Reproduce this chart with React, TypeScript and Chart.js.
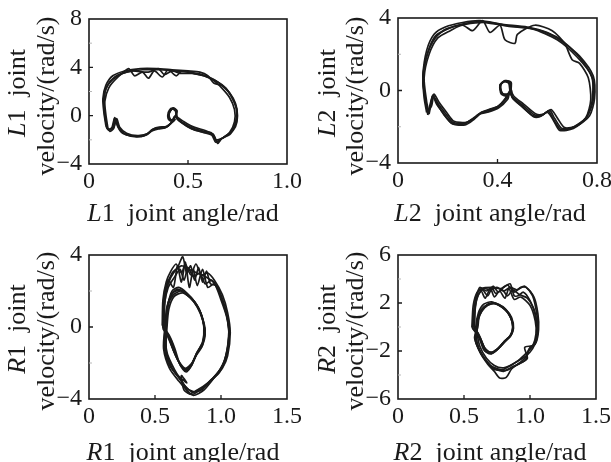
import React, { useEffect, useRef } from "react";
import { Chart, registerables } from "chart.js";
Chart.register(...registerables);

type P = [number, number];

// ---------- L1 joint: angle (rad) vs velocity (rad/s) ----------
const L1_A: P[] = [[0.09,-0.9],[0.08,0.2],[0.075,1.3],[0.09,2.4],[0.13,3.2],[0.19,3.6],[0.27,3.8],[0.35,3.8],[0.43,3.7],[0.5,3.6],[0.57,3.4],[0.63,3.0],[0.68,2.4],[0.72,1.6],[0.745,0.6],[0.745,-0.4],[0.72,-1.3],[0.68,-1.8],[0.645,-2.1],[0.625,-1.5],[0.58,-1.3],[0.52,-1.0],[0.47,-0.55],[0.44,-0.15],[0.44,0.35],[0.42,0.55],[0.405,0.2],[0.41,-0.3],[0.425,-0.35],[0.435,0.0],[0.42,-0.5],[0.39,-0.95],[0.35,-1.0],[0.32,-1.15],[0.29,-1.55],[0.24,-1.7],[0.18,-1.5],[0.15,-1.0],[0.13,-0.2],[0.12,-1.0],[0.1,-1.2],[0.09,-0.9]];
const L1_B: P[] = [[0.095,-1.0],[0.085,0.1],[0.08,1.2],[0.1,2.3],[0.14,3.1],[0.2,3.9],[0.23,3.3],[0.27,3.6],[0.3,3.1],[0.33,3.7],[0.37,3.2],[0.4,3.8],[0.44,3.3],[0.47,3.7],[0.53,3.5],[0.58,3.3],[0.63,2.9],[0.67,2.3],[0.71,1.5],[0.735,0.5],[0.735,-0.5],[0.71,-1.4],[0.67,-1.9],[0.64,-2.2],[0.62,-1.6],[0.58,-1.4],[0.52,-1.1],[0.47,-0.6],[0.445,-0.2],[0.44,0.4],[0.425,0.6],[0.405,0.3],[0.405,-0.2],[0.42,-0.4],[0.43,-0.1],[0.415,-0.6],[0.385,-1.0],[0.35,-1.1],[0.32,-1.25],[0.29,-1.6],[0.24,-1.75],[0.185,-1.55],[0.155,-1.1],[0.135,-0.3],[0.125,-1.05],[0.105,-1.3],[0.095,-1.0]];
const L1_C: P[] = [[0.085,-0.8],[0.075,0.3],[0.07,1.4],[0.085,2.5],[0.12,3.3],[0.18,3.7],[0.26,3.9],[0.34,3.9],[0.42,3.8],[0.5,3.7],[0.56,3.6],[0.6,3.3],[0.63,2.7],[0.67,2.5],[0.71,1.9],[0.74,1.0],[0.75,0.0],[0.74,-0.9],[0.71,-1.5],[0.67,-1.9],[0.65,-2.3],[0.63,-1.6],[0.59,-1.25],[0.53,-0.95],[0.48,-0.5],[0.445,-0.1],[0.435,0.45],[0.415,0.6],[0.4,0.25],[0.4,-0.25],[0.415,-0.45],[0.43,-0.2],[0.41,-0.7],[0.38,-1.0],[0.345,-1.05],[0.31,-1.3],[0.28,-1.65],[0.23,-1.7],[0.17,-1.45],[0.145,-0.9],[0.13,-0.15],[0.115,-1.0],[0.095,-1.15],[0.085,-0.8]];
const L1_D: P[] = [[0.09,-1.0],[0.08,0.0],[0.075,1.1],[0.085,2.2],[0.12,3.0],[0.17,3.5],[0.22,3.7],[0.3,3.6],[0.35,3.9],[0.38,3.4],[0.42,3.7],[0.46,3.5],[0.52,3.5],[0.58,3.3],[0.64,2.9],[0.69,2.3],[0.725,1.4],[0.745,0.5],[0.74,-0.6],[0.715,-1.5],[0.675,-1.85],[0.64,-2.0],[0.615,-1.4],[0.575,-1.35],[0.515,-1.05],[0.465,-0.55],[0.44,-0.1],[0.445,0.4],[0.425,0.65],[0.41,0.35],[0.4,-0.1],[0.415,-0.4],[0.435,-0.3],[0.42,-0.55],[0.39,-0.9],[0.355,-0.95],[0.325,-1.1],[0.295,-1.5],[0.245,-1.65],[0.19,-1.45],[0.155,-0.95],[0.14,-0.25],[0.125,-0.95],[0.1,-1.15],[0.09,-1.0]];

// ---------- L2 joint ----------
const L2_A: P[] = [[0.12,-1.25],[0.11,-0.5],[0.10,0.75],[0.12,2.1],[0.15,3.0],[0.2,3.4],[0.27,3.7],[0.34,3.8],[0.43,3.6],[0.54,3.4],[0.64,2.8],[0.72,1.85],[0.78,0.75],[0.785,-0.5],[0.76,-1.45],[0.71,-2.0],[0.66,-2.1],[0.63,-1.55],[0.61,-1.1],[0.58,-1.35],[0.55,-1.35],[0.5,-0.8],[0.46,-0.35],[0.45,0.0],[0.45,0.4],[0.43,0.5],[0.41,0.3],[0.42,-0.15],[0.44,-0.25],[0.45,0.0],[0.43,-0.5],[0.4,-0.9],[0.36,-1.1],[0.33,-1.25],[0.31,-1.5],[0.27,-1.8],[0.22,-1.75],[0.19,-1.25],[0.16,-0.7],[0.14,-0.25],[0.13,-0.9],[0.12,-1.25]];
const L2_B: P[] = [[0.125,-1.3],[0.115,-0.6],[0.105,0.7],[0.125,2.0],[0.16,2.9],[0.21,3.3],[0.26,3.6],[0.3,3.3],[0.34,3.85],[0.37,3.2],[0.41,3.6],[0.43,2.8],[0.47,2.6],[0.48,3.1],[0.55,3.6],[0.62,3.3],[0.67,2.6],[0.7,1.7],[0.73,1.5],[0.765,0.7],[0.775,-0.5],[0.755,-1.5],[0.7,-2.05],[0.655,-2.15],[0.625,-1.6],[0.605,-1.15],[0.575,-1.4],[0.545,-1.4],[0.495,-0.85],[0.46,-0.4],[0.455,0.05],[0.45,0.45],[0.43,0.55],[0.41,0.3],[0.415,-0.2],[0.44,-0.3],[0.45,-0.05],[0.425,-0.55],[0.395,-0.95],[0.355,-1.15],[0.325,-1.3],[0.3,-1.55],[0.265,-1.85],[0.215,-1.8],[0.185,-1.3],[0.155,-0.75],[0.14,-0.3],[0.13,-0.95],[0.125,-1.3]];
const L2_C: P[] = [[0.115,-1.2],[0.105,-0.4],[0.1,0.8],[0.115,2.2],[0.145,3.1],[0.19,3.5],[0.26,3.75],[0.33,3.85],[0.42,3.65],[0.52,3.5],[0.6,3.2],[0.66,2.7],[0.73,1.9],[0.785,0.8],[0.79,-0.45],[0.77,-1.4],[0.72,-1.95],[0.67,-2.05],[0.64,-1.5],[0.615,-1.05],[0.585,-1.3],[0.555,-1.3],[0.505,-0.75],[0.465,-0.3],[0.455,0.05],[0.455,0.45],[0.435,0.55],[0.415,0.35],[0.415,-0.1],[0.435,-0.25],[0.455,0.0],[0.435,-0.45],[0.405,-0.85],[0.365,-1.05],[0.335,-1.2],[0.315,-1.45],[0.275,-1.75],[0.225,-1.7],[0.195,-1.2],[0.165,-0.65],[0.145,-0.2],[0.135,-0.85],[0.115,-1.2]];
const L2_D: P[] = [[0.12,-1.35],[0.11,-0.55],[0.1,0.6],[0.115,1.9],[0.15,2.9],[0.195,3.4],[0.27,3.65],[0.35,3.75],[0.44,3.55],[0.56,3.35],[0.65,2.85],[0.725,1.9],[0.78,0.7],[0.78,-0.6],[0.755,-1.55],[0.705,-2.1],[0.65,-2.2],[0.625,-1.65],[0.6,-1.2],[0.57,-1.45],[0.545,-1.45],[0.5,-0.9],[0.46,-0.4],[0.45,0.0],[0.445,0.4],[0.425,0.5],[0.41,0.25],[0.42,-0.2],[0.445,-0.2],[0.44,-0.5],[0.405,-0.95],[0.36,-1.2],[0.33,-1.3],[0.305,-1.6],[0.27,-1.9],[0.22,-1.85],[0.185,-1.35],[0.16,-0.8],[0.14,-0.3],[0.125,-1.0],[0.12,-1.35]];

// ---------- R1 joint ----------
const R1_A: P[] = [[0.57,0.0],[0.575,1.4],[0.6,2.4],[0.64,3.0],[0.7,3.4],[0.76,3.2],[0.82,3.0],[0.88,2.8],[0.94,2.5],[0.99,1.9],[1.03,1.0],[1.06,0.0],[1.05,-1.2],[1.02,-2.0],[0.96,-2.7],[0.88,-3.3],[0.8,-3.6],[0.74,-3.4],[0.69,-2.9],[0.62,-2.2],[0.58,-1.2],[0.585,0.0],[0.6,1.2],[0.64,1.8],[0.7,2.0],[0.76,1.7],[0.82,1.2],[0.86,0.5],[0.88,-0.2],[0.86,-0.9],[0.82,-1.4],[0.78,-2.0],[0.73,-2.3],[0.68,-1.9],[0.64,-1.3],[0.6,-0.6],[0.57,0.0]];
const R1_B: P[] = [[0.56,-0.1],[0.565,1.3],[0.59,2.3],[0.63,3.0],[0.67,3.3],[0.71,3.9],[0.74,3.0],[0.77,3.4],[0.8,2.6],[0.83,3.3],[0.86,2.5],[0.89,3.1],[0.92,2.4],[0.96,2.3],[1.0,1.7],[1.04,0.8],[1.06,-0.2],[1.04,-1.5],[1.0,-2.3],[0.93,-2.9],[0.86,-3.4],[0.78,-3.75],[0.72,-3.5],[0.7,-2.7],[0.74,-3.1],[0.66,-2.6],[0.6,-2.0],[0.57,-1.1],[0.58,0.1],[0.6,1.3],[0.63,2.0],[0.68,2.2],[0.74,1.9],[0.8,1.4],[0.85,0.7],[0.875,-0.1],[0.865,-0.8],[0.83,-1.3],[0.79,-1.9],[0.75,-2.4],[0.7,-2.2],[0.655,-1.5],[0.62,-0.7],[0.56,-0.1]];
const R1_C: P[] = [[0.555,0.1],[0.56,1.5],[0.585,2.5],[0.62,3.1],[0.66,3.5],[0.7,3.0],[0.73,3.5],[0.77,2.9],[0.81,3.5],[0.85,2.9],[0.9,3.0],[0.95,2.6],[1.01,1.8],[1.05,0.8],[1.07,-0.3],[1.05,-1.6],[1.01,-2.3],[0.95,-2.8],[0.87,-3.5],[0.79,-3.8],[0.74,-3.5],[0.68,-3.0],[0.61,-2.3],[0.565,-1.2],[0.575,0.0],[0.59,1.1],[0.625,1.8],[0.67,2.1],[0.73,1.85],[0.79,1.45],[0.845,0.8],[0.87,0.0],[0.86,-0.85],[0.815,-1.45],[0.775,-2.1],[0.73,-2.4],[0.685,-2.0],[0.645,-1.4],[0.605,-0.6],[0.555,0.1]];
const R1_D: P[] = [[0.57,-0.2],[0.57,1.2],[0.6,2.2],[0.65,2.8],[0.69,3.2],[0.72,2.6],[0.75,3.3],[0.79,2.8],[0.84,3.0],[0.88,2.4],[0.93,2.6],[0.98,2.1],[1.02,1.3],[1.05,0.4],[1.06,-0.6],[1.04,-1.7],[0.99,-2.5],[0.92,-3.0],[0.85,-3.5],[0.78,-3.6],[0.73,-3.3],[0.69,-2.9],[0.63,-2.3],[0.585,-1.3],[0.59,-0.1],[0.605,1.0],[0.645,1.7],[0.71,1.9],[0.77,1.6],[0.82,1.1],[0.86,0.4],[0.88,-0.4],[0.855,-1.1],[0.81,-1.6],[0.77,-2.2],[0.72,-2.35],[0.67,-1.8],[0.63,-1.1],[0.6,-0.4],[0.57,-0.2]];
const R1_E: P[] = [[0.565,0.0],[0.57,1.5],[0.6,2.6],[0.64,2.2],[0.67,3.4],[0.7,2.5],[0.73,3.6],[0.76,2.2],[0.79,3.2],[0.82,2.3],[0.86,3.2],[0.9,2.2],[0.95,2.4],[1.0,1.5],[1.045,0.5],[1.06,-0.5],[1.03,-1.8],[0.98,-2.5],[0.9,-3.1],[0.82,-3.5],[0.76,-3.7],[0.71,-3.1],[0.65,-2.4],[0.59,-1.4],[0.58,-0.2],[0.595,1.2],[0.635,1.9],[0.69,2.05],[0.75,1.8],[0.81,1.3],[0.855,0.6],[0.875,-0.3],[0.86,-1.0],[0.815,-1.5],[0.78,-2.1],[0.735,-2.5],[0.69,-2.1],[0.65,-1.2],[0.61,-0.5],[0.565,0.0]];

// ---------- R2 joint ----------
const R2_A: P[] = [[0.57,0.1],[0.58,1.6],[0.6,2.8],[0.63,3.2],[0.71,3.3],[0.78,3.2],[0.83,3.5],[0.88,2.9],[0.93,3.3],[0.97,3.3],[1.02,2.6],[1.05,1.2],[1.06,-0.1],[1.04,-1.4],[0.99,-1.9],[0.97,-2.7],[0.91,-3.1],[0.86,-3.4],[0.8,-3.7],[0.76,-3.6],[0.72,-3.5],[0.68,-3.0],[0.63,-2.2],[0.59,-1.2],[0.6,0.1],[0.62,1.0],[0.66,1.7],[0.71,2.0],[0.77,1.8],[0.82,1.4],[0.86,0.6],[0.87,-0.2],[0.85,-0.8],[0.81,-1.2],[0.76,-1.8],[0.71,-2.2],[0.66,-2.0],[0.62,-1.0],[0.57,0.1]];
const R2_B: P[] = [[0.56,0.0],[0.57,1.8],[0.6,2.9],[0.64,3.1],[0.68,2.6],[0.72,3.4],[0.76,2.9],[0.8,3.3],[0.85,3.6],[0.88,2.6],[0.91,2.6],[0.95,2.9],[1.0,2.2],[1.04,1.0],[1.055,-0.3],[1.03,-1.5],[0.96,-1.7],[0.98,-2.6],[0.93,-3.0],[0.87,-3.3],[0.82,-3.6],[0.76,-3.5],[0.7,-3.2],[0.64,-2.4],[0.6,-1.3],[0.59,0.0],[0.61,1.2],[0.65,1.9],[0.71,2.1],[0.78,1.7],[0.83,1.2],[0.865,0.4],[0.865,-0.4],[0.84,-0.9],[0.8,-1.3],[0.75,-1.9],[0.7,-2.25],[0.65,-1.9],[0.615,-0.9],[0.56,0.0]];
const R2_C: P[] = [[0.575,0.2],[0.585,1.7],[0.61,2.7],[0.65,3.2],[0.7,3.1],[0.75,3.3],[0.8,3.0],[0.85,3.3],[0.9,3.1],[0.96,3.4],[1.03,2.5],[1.06,1.1],[1.065,-0.2],[1.045,-1.3],[1.0,-1.7],[0.97,-2.5],[0.92,-3.0],[0.86,-3.5],[0.82,-4.2],[0.77,-4.25],[0.73,-3.7],[0.68,-3.1],[0.62,-2.1],[0.585,-1.0],[0.6,0.3],[0.625,1.3],[0.67,1.8],[0.73,1.95],[0.79,1.65],[0.84,1.1],[0.87,0.3],[0.86,-0.6],[0.82,-1.1],[0.77,-1.7],[0.72,-2.1],[0.67,-2.0],[0.63,-1.1],[0.575,0.2]];
const R2_D: P[] = [[0.565,-0.1],[0.575,1.4],[0.595,2.6],[0.62,3.3],[0.67,3.0],[0.71,3.3],[0.74,2.8],[0.79,3.1],[0.83,2.6],[0.87,3.1],[0.92,2.7],[0.98,2.4],[1.03,1.5],[1.05,0.3],[1.05,-0.9],[1.02,-1.8],[0.97,-2.4],[0.9,-2.9],[0.84,-3.3],[0.78,-3.6],[0.72,-3.4],[0.66,-2.7],[0.61,-1.8],[0.58,-0.9],[0.605,0.0],[0.615,0.9],[0.655,1.6],[0.71,1.95],[0.76,1.9],[0.815,1.5],[0.86,0.8],[0.875,-0.1],[0.855,-0.7],[0.81,-1.15],[0.765,-1.7],[0.715,-2.15],[0.66,-1.9],[0.625,-1.0],[0.565,-0.1]];
const R2_E: P[] = [[0.58,0.0],[0.585,1.5],[0.6,2.5],[0.63,3.0],[0.66,2.4],[0.7,3.2],[0.73,2.5],[0.77,3.0],[0.81,2.4],[0.84,3.2],[0.88,2.3],[0.93,2.5],[1.0,1.8],[1.04,0.5],[1.045,-0.6],[1.02,-1.6],[0.97,-2.2],[0.91,-2.8],[0.85,-3.2],[0.79,-3.4],[0.73,-3.2],[0.67,-2.6],[0.62,-1.6],[0.6,-0.5],[0.6,0.5],[0.63,1.4],[0.68,1.9],[0.74,2.0],[0.8,1.6],[0.85,0.9],[0.87,0.0],[0.85,-0.7],[0.8,-1.25],[0.75,-1.85],[0.7,-2.1],[0.655,-1.7],[0.62,-0.8],[0.58,0.0]];

// ---------- axis ranges & tick labels ----------
const L1_X_RANGE = [0, 1, 0.5];
const L1_Y_RANGE = [-4, 8, 4];
const L1_X_TICKS = ["0", "0.5", "1.0"];
const L1_Y_TICKS = ["\u22124", "0", "4", "8"];

const L2_X_RANGE = [0, 0.8, 0.4];
const L2_Y_RANGE = [-4, 4, 4];
const L2_X_TICKS = ["0", "0.4", "0.8"];
const L2_Y_TICKS = ["\u22124", "0", "4"];

const R1_X_RANGE = [0, 1.5, 0.5];
const R1_Y_RANGE = [-4, 4, 4];
const R1_X_TICKS = ["0", "0.5", "1.0", "1.5"];
const R1_Y_TICKS = ["\u22124", "0", "4"];

const R2_X_RANGE = [0, 1.5, 0.5];
const R2_Y_RANGE = [-6, 6, 4];
const R2_X_TICKS = ["0", "0.5", "1.0", "1.5"];
const R2_Y_TICKS = ["\u22126", "\u22122", "2", "6"];

const FONT = '"Liberation Serif", "Times New Roman", serif';
const INK = "#1a1a1a";

interface PanelDef {
  joint: string;
  idx: string;
  loops: P[][];
  xr: number[];
  yr: number[];
  xt: string[];
  yt: string[];
  pos: { left: number; top: number; w: number; h: number };
  area: { l: number; t: number; r: number; b: number };
  xTitle: { x: number; y: number };
  yTitle: { x1: number; x2: number; y1: number; y2: number };
}

const PANELS: PanelDef[] = [
  {
    joint: "L", idx: "1", loops: [L1_A, L1_B, L1_C, L1_D],
    xr: L1_X_RANGE, yr: L1_Y_RANGE, xt: L1_X_TICKS, yt: L1_Y_TICKS,
    pos: { left: 0, top: 0, w: 305, h: 231 },
    area: { l: 89, t: 19, r: 287, b: 164 },
    xTitle: { x: 183, y: 221 },
    yTitle: { x1: 18, x2: 47, y1: 93, y2: 96 },
  },
  {
    joint: "L", idx: "2", loops: [L2_A, L2_B, L2_C, L2_D],
    xr: L2_X_RANGE, yr: L2_Y_RANGE, xt: L2_X_TICKS, yt: L2_Y_TICKS,
    pos: { left: 305, top: 0, w: 306, h: 231 },
    area: { l: 93, t: 18, r: 292, b: 163 },
    xTitle: { x: 185, y: 221 },
    yTitle: { x1: 23, x2: 51, y1: 93, y2: 96 },
  },
  {
    joint: "R", idx: "1", loops: [R1_A, R1_B, R1_C, R1_D, R1_E],
    xr: R1_X_RANGE, yr: R1_Y_RANGE, xt: R1_X_TICKS, yt: R1_Y_TICKS,
    pos: { left: 0, top: 231, w: 305, h: 231 },
    area: { l: 89, t: 24, r: 287, b: 168 },
    xTitle: { x: 183, y: 229 },
    yTitle: { x1: 18, x2: 47, y1: 98, y2: 100 },
  },
  {
    joint: "R", idx: "2", loops: [R2_A, R2_B, R2_C, R2_D, R2_E],
    xr: R2_X_RANGE, yr: R2_Y_RANGE, xt: R2_X_TICKS, yt: R2_Y_TICKS,
    pos: { left: 305, top: 231, w: 306, h: 231 },
    area: { l: 93, t: 24, r: 291, b: 168 },
    xTitle: { x: 185, y: 229 },
    yTitle: { x1: 23, x2: 51, y1: 98, y2: 100 },
  },
];

type Seg = { text: string; italic?: boolean };

function segWidth(ctx: CanvasRenderingContext2D, segs: Seg[], size: number) {
  let w = 0;
  for (const s of segs) {
    ctx.font = `${s.italic ? "italic " : ""}${size}px ${FONT}`;
    w += ctx.measureText(s.text).width;
  }
  return w;
}

function drawSegs(ctx: CanvasRenderingContext2D, segs: Seg[], x: number, y: number, size: number) {
  let cx = x;
  for (const s of segs) {
    ctx.font = `${s.italic ? "italic " : ""}${size}px ${FONT}`;
    ctx.fillText(s.text, cx, y);
    cx += ctx.measureText(s.text).width;
  }
}

function makeDecor(p: PanelDef) {
  return {
    id: "decor",
    afterDraw(chart: any) {
      const ctx: CanvasRenderingContext2D = chart.ctx;
      const a = chart.chartArea;
      const xs = chart.scales.x;
      const ys = chart.scales.y;
      ctx.save();
      ctx.strokeStyle = INK;
      ctx.lineWidth = 1.6;
      ctx.strokeRect(a.left, a.top, a.right - a.left, a.bottom - a.top);
      ctx.lineWidth = 1.3;
      ctx.beginPath();
      for (const t of xs.ticks) {
        const px = xs.getPixelForValue(t.value);
        if (px > a.left + 3 && px < a.right - 3) {
          ctx.moveTo(px, a.bottom);
          ctx.lineTo(px, a.bottom - 4);
        }
      }
      for (const t of ys.ticks) {
        const py = ys.getPixelForValue(t.value);
        if (py > a.top + 3 && py < a.bottom - 3) {
          ctx.moveTo(a.left, py);
          ctx.lineTo(a.left + 4, py);
        }
      }
      ctx.stroke();
      ctx.strokeStyle = "#b8b8b8";
      ctx.lineWidth = 1;
      ctx.beginPath();
      const ticks = ys.ticks;
      for (let i = 0; i < ticks.length - 1; i++) {
        const mid = (ticks[i].value + ticks[i + 1].value) / 2;
        const py = ys.getPixelForValue(mid);
        ctx.moveTo(a.left, py);
        ctx.lineTo(a.left + 3, py);
      }
      ctx.stroke();

      ctx.fillStyle = INK;
      const size = 26;
      const xSegs: Seg[] = [
        { text: p.joint, italic: true },
        { text: p.idx + "  joint angle/rad" },
      ];
      ctx.textBaseline = "alphabetic";
      ctx.textAlign = "left";
      const xw = segWidth(ctx, xSegs, size);
      drawSegs(ctx, xSegs, p.xTitle.x - xw / 2, p.xTitle.y, size);

      const l1: Seg[] = [{ text: p.joint, italic: true }, { text: p.idx + "  joint" }];
      const l2: Seg[] = [{ text: "velocity/(rad/s)" }];
      ctx.textBaseline = "middle";
      const w1 = segWidth(ctx, l1, size);
      ctx.save();
      ctx.translate(p.yTitle.x1, p.yTitle.y1);
      ctx.rotate(-Math.PI / 2);
      drawSegs(ctx, l1, -w1 / 2, 0, size);
      ctx.restore();
      const w2 = segWidth(ctx, l2, size);
      ctx.save();
      ctx.translate(p.yTitle.x2, p.yTitle.y2);
      ctx.rotate(-Math.PI / 2);
      drawSegs(ctx, l2, -w2 / 2, 0, size);
      ctx.restore();
      ctx.restore();
    },
  };
}

function PhasePanel({ p }: { p: PanelDef }) {
  const ref = useRef<HTMLCanvasElement | null>(null);
  useEffect(() => {
    const canvas = ref.current;
    if (!canvas) return;
    const { w, h } = p.pos;
    const a = p.area;
    const chart = new Chart(canvas, {
      type: "scatter",
      data: {
        datasets: p.loops.map((loop) => ({
          data: loop.map(([x, y]) => ({ x, y })),
          showLine: true,
          borderColor: INK,
          borderWidth: 1.7,
          pointRadius: 0,
          tension: 0.25,
          fill: false,
        })),
      },
      options: {
        responsive: false,
        animation: false,
        devicePixelRatio: 1,
        layout: { padding: { left: 0, top: a.t, right: w - a.r, bottom: 0 } },
        plugins: { legend: { display: false }, tooltip: { enabled: false } },
        events: [],
        scales: {
          x: {
            type: "linear",
            position: "bottom",
            min: p.xr[0],
            max: p.xr[1],
            grid: { display: false, drawTicks: false, tickLength: 0 },
            border: { display: false },
            ticks: {
              stepSize: p.xr[2],
              padding: 3,
              maxRotation: 0,
              autoSkip: false,
              color: INK,
              font: { family: FONT, size: 24 },
              callback: (_v: any, i: number) => p.xt[i],
            },
            afterFit: (s: any) => {
              s.height = h - a.b;
              s.paddingLeft = 0;
              s.paddingRight = 0;
            },
          },
          y: {
            type: "linear",
            position: "left",
            min: p.yr[0],
            max: p.yr[1],
            grid: { display: false, drawTicks: false, tickLength: 0 },
            border: { display: false },
            ticks: {
              stepSize: p.yr[2],
              padding: 7,
              autoSkip: false,
              color: INK,
              font: { family: FONT, size: 24 },
              callback: (_v: any, i: number) => p.yt[i],
            },
            afterFit: (s: any) => {
              s.width = a.l;
              s.paddingTop = 0;
              s.paddingBottom = 0;
            },
          },
        },
      } as any,
      plugins: [makeDecor(p)],
    });
    return () => chart.destroy();
  }, [p]);
  return (
    <canvas
      ref={ref}
      width={p.pos.w}
      height={p.pos.h}
      style={{
        position: "absolute",
        left: p.pos.left,
        top: p.pos.top,
        width: p.pos.w,
        height: p.pos.h,
      }}
    />
  );
}

export default function App() {
  return (
    <div
      style={{
        position: "absolute",
        left: 0,
        top: 0,
        width: 611,
        height: 462,
        background: "#fff",
        overflow: "hidden",
      }}
    >
      {PANELS.map((p, i) => (
        <PhasePanel key={i} p={p} />
      ))}
    </div>
  );
}
